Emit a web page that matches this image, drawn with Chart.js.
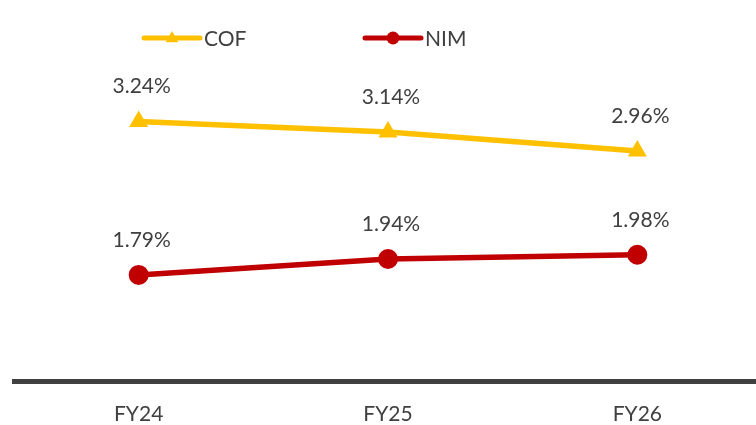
<!DOCTYPE html>
<html>
<head>
<meta charset="utf-8">
<script src="https://cdn.jsdelivr.net/npm/chart.js@4/dist/chart.umd.min.js"></script>
<style>
  html, body { margin: 0; padding: 0; background: #fff; overflow: hidden; }
  #wrap { width: 756px; height: 425px; overflow: hidden; }
</style>
</head>
<body>
<div id="wrap"><canvas id="chart" width="762" height="425"></canvas></div>
<script>
const years = ['FY24', 'FY25', 'FY26'];
const cof = [3.24, 3.14, 2.96];
const nim = [1.79, 1.94, 1.98];

const TEXT = '#404040';
const FONT = 'Lato, "Liberation Sans", sans-serif';

// value labels above each point
const pointLabels = {
  id: 'pointLabels',
  afterDatasetsDraw(chart) {
    const c = chart.ctx;
    c.save();
    c.font = '21px ' + FONT;
    c.fillStyle = TEXT;
    c.textAlign = 'center';
    c.textBaseline = 'middle';
    chart.data.datasets.forEach((ds, i) => {
      chart.getDatasetMeta(i).data.forEach((pt, j) => {
        c.fillText(ds.data[j].toFixed(2) + '%', pt.x + 3, pt.y - 35);
      });
    });
    c.restore();
  }
};

// line + marker legend at the top
const lineLegend = {
  id: 'lineLegend',
  afterDraw(chart) {
    const c = chart.ctx;
    const items = [
      { ds: chart.data.datasets[0], x: 144, r: 7 },
      { ds: chart.data.datasets[1], x: 365, r: 6.5 }
    ];
    const y = 38;
    c.save();
    items.forEach(it => {
      const cx = it.x + 28;
      c.strokeStyle = it.ds.borderColor;
      c.lineWidth = 5;
      c.lineCap = 'round';
      c.beginPath();
      c.moveTo(it.x, y);
      c.lineTo(it.x + 56, y);
      c.stroke();
      c.fillStyle = it.ds.borderColor;
      c.beginPath();
      if (it.ds.pointStyle === 'triangle') {
        c.moveTo(cx, y - it.r);
        c.lineTo(cx + it.r * 0.9, y + it.r * 0.6);
        c.lineTo(cx - it.r * 0.9, y + it.r * 0.6);
        c.closePath();
      } else {
        c.arc(cx, y, it.r, 0, Math.PI * 2);
      }
      c.fill();
      c.font = '21px ' + FONT;
      c.fillStyle = TEXT;
      c.textAlign = 'left';
      c.textBaseline = 'middle';
      c.fillText(it.ds.label, it.x + 60, y + 1);
    });
    c.restore();
  }
};

new Chart(document.getElementById('chart'), {
  type: 'line',
  data: {
    labels: years,
    datasets: [
      {
        label: 'COF',
        data: cof,
        borderColor: '#FFC000',
        backgroundColor: '#FFC000',
        borderWidth: 5.5,
        pointStyle: 'triangle',
        pointRadius: 11,
        pointBorderWidth: 0,
        tension: 0
      },
      {
        label: 'NIM',
        data: nim,
        borderColor: '#C00000',
        backgroundColor: '#C00000',
        borderWidth: 5.5,
        pointStyle: 'circle',
        pointRadius: 10,
        pointBorderWidth: 0,
        tension: 0
      }
    ]
  },
  options: {
    responsive: false,
    animation: false,
    layout: { autoPadding: false, padding: { left: 14, right: 0, top: 60, bottom: -22 } },
    plugins: {
      legend: { display: false },
      tooltip: { enabled: false }
    },
    scales: {
      x: {
        offset: true,
        grid: { display: false, drawTicks: false },
        border: { display: true, color: '#404040', width: 5 },
        ticks: { color: TEXT, font: { family: FONT, size: 21 }, padding: 20 }
      },
      y: {
        display: false,
        min: 0.78,
        max: 3.82
      }
    }
  },
  plugins: [pointLabels, lineLegend]
});
</script>
</body>
</html>
